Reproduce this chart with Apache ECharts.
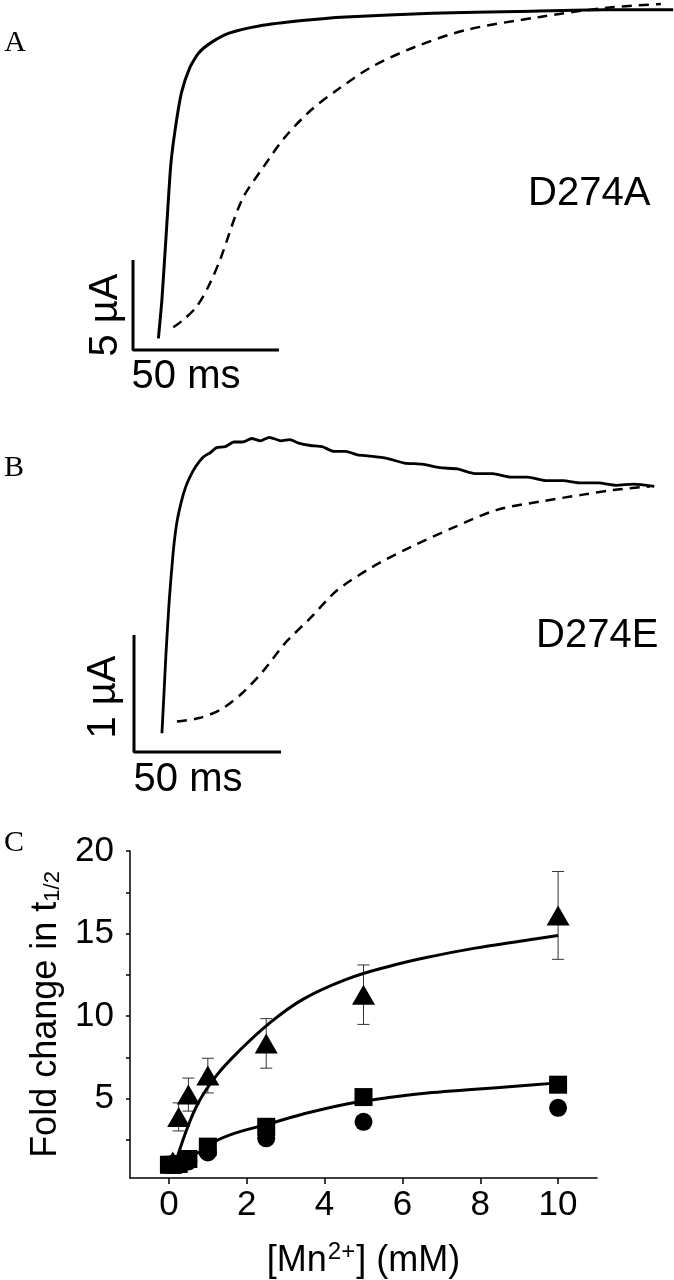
<!DOCTYPE html>
<html>
<head>
<meta charset="utf-8">
<script src="https://cdn.jsdelivr.net/npm/echarts@6/dist/echarts.min.js"></script>
<style>
  html, body { margin: 0; padding: 0; background: #fff; }
  #chart { width: 674px; height: 1280px; }
</style>
</head>
<body>
<div id="chart"></div>
<script>
// Panel A (D274A): time in ms, current in uA (relative to scale bar corner)
var aSolidT = [8.7, 9.9, 11.4, 12.9, 14.4, 16.6, 19.5, 22.5, 27, 32.9, 43.2, 57.9, 72.8, 102.4, 131.8, 161.6, 185];
var aSolidI = [0.65, 2.78, 6.5, 10.2, 12.2, 14.3, 15.7, 16.5, 17.1, 17.6, 18.0, 18.3, 18.5, 18.7, 18.8, 18.9, 18.9];
var aDashT = [13.8, 17.2, 21.8, 25.8, 29.8, 37.3, 44.7, 52.1, 61, 69.9, 81.7, 96.5, 114.2, 139.4, 161.6, 180.8];
var aDashI = [1.26, 1.67, 2.41, 3.52, 5.0, 8.33, 10.17, 11.83, 13.33, 14.44, 15.72, 16.83, 17.78, 18.5, 19.0, 19.22];

// Panel B (D274E)
var bSolidT = [9.5, 10.2, 10.9, 12, 13.3, 14.5, 16, 17.5, 19, 21, 23.5, 26, 28, 31, 34, 37, 40, 43, 46, 50, 53, 56, 60, 64, 68, 72, 76, 80, 86, 92, 98, 104, 110, 116, 122, 128, 134, 140, 146, 152, 158, 164, 170, 177];
var bSolidI = [0.16, 0.5, 0.85, 1.3, 1.70, 1.95, 2.13, 2.26, 2.35, 2.44, 2.52, 2.56, 2.60, 2.61, 2.65, 2.65, 2.68, 2.66, 2.69, 2.66, 2.67, 2.64, 2.62, 2.61, 2.57, 2.57, 2.54, 2.53, 2.51, 2.47, 2.46, 2.43, 2.42, 2.38, 2.38, 2.35, 2.35, 2.32, 2.32, 2.30, 2.30, 2.28, 2.29, 2.27];
var bDashT = [14.6, 22.1, 29.3, 36.7, 44.2, 51.4, 60.2, 69, 81, 93.9, 108.8, 123.5, 138, 152.7, 163, 175.5];
var bDashI = [0.26, 0.29, 0.36, 0.50, 0.70, 0.93, 1.15, 1.38, 1.58, 1.75, 1.92, 2.07, 2.14, 2.20, 2.24, 2.27];

// scale bars [ms, uA]
var scaleA = [50, 5];
var scaleB = [50, 1];

// Panel C: fold change in t1/2 vs [Mn2+] (mM)
var triMn = [0.1, 0.25, 0.5, 1, 2.5, 5, 10];
var triFold = [1.2, 3.9, 5.25, 6.4, 8.35, 11.3, 16.1];
var triErr = [0, 0.85, 1.0, 1.05, 1.5, 1.8, 2.66];
var sqMn = [0, 0.1, 0.25, 0.5, 1, 2.5, 5, 10];
var sqFold = [1.0, 1.0, 1.05, 1.35, 2.1, 3.3, 5.1, 5.85];
var cirMn = [0, 0.25, 0.5, 1, 2.5, 5, 10];
var cirFold = [1.0, 1.0, 1.2, 1.75, 2.6, 3.6, 4.45];
var fitHiMn = [0.15, 0.43, 0.76, 1.21, 1.76, 2.54, 3.43, 4.54, 5.65, 6.76, 7.87, 8.98, 10.0];
var fitHiFold = [0.94, 2.96, 4.77, 6.37, 7.79, 9.49, 11.0, 12.21, 13.01, 13.62, 14.12, 14.52, 14.88];
var fitLoMn = [0, 0.5, 0.99, 1.21, 1.76, 2.54, 3.43, 4.54, 5.65, 6.76, 7.87, 8.98, 10.0];
var fitLoFold = [1.0, 1.45, 2.05, 2.45, 2.96, 3.46, 4.06, 4.67, 5.07, 5.37, 5.57, 5.77, 5.96];

var xTicksC = [0, 2, 4, 6, 8, 10];
var yTicksC = [2.5, 5, 7.5, 10, 12.5, 15, 17.5, 20];
var yLabelsC = [5, 10, 15, 20];

function zip(a, b) {
  return a.map(function (v, i) { return [v, b[i]]; });
}

var sans = '"Liberation Sans", Arial, sans-serif';
var serif = '"Liberation Serif", "Times New Roman", serif';

var chart = echarts.init(document.getElementById('chart'));

function hidden(gi, min, max) {
  return { gridIndex: gi, type: 'value', min: min, max: max, show: false };
}

function trace(xi, data, dashed, width, smooth) {
  return {
    type: 'line', xAxisIndex: xi, yAxisIndex: xi, data: data,
    showSymbol: false, smooth: smooth, clip: false, silent: true,
    lineStyle: { color: '#000', width: width, type: dashed ? [10, 7] : 'solid' }
  };
}

function bar(xi, data) {
  return {
    type: 'line', xAxisIndex: xi, yAxisIndex: xi, data: data,
    showSymbol: false, clip: false, silent: true,
    lineStyle: { color: '#000', width: 3 }
  };
}

function txt(x, y, s, size, family, rot, align) {
  return {
    type: 'text', x: x, y: y, rotation: rot || 0, silent: true,
    style: {
      text: s, fill: '#000', fontSize: size, fontFamily: family,
      textAlign: align || 'center', align: align || 'center',
      textVerticalAlign: 'middle', verticalAlign: 'middle'
    }
  };
}

function dots(data, symbol, size) {
  return {
    type: 'scatter', xAxisIndex: 2, yAxisIndex: 2, data: data,
    symbol: symbol, symbolSize: size, silent: true,
    itemStyle: { color: '#000', opacity: 1 }
  };
}

var option = {
  backgroundColor: '#fff',
  animation: false,
  grid: [
    { left: 133, top: 0, width: 541, height: 350 },
    { left: 134, top: 420, width: 540, height: 332 },
    { left: 130, top: 851, width: 467, height: 328 }
  ],
  xAxis: [
    hidden(0, 0, 185.3),
    hidden(1, 0, 183.7),
    {
      gridIndex: 2, type: 'value', min: -1, max: 11,
      axisLine: { show: true, onZero: false, lineStyle: { color: '#000', width: 1.5 } },
      axisTick: { show: true, customValues: xTicksC, length: 6, lineStyle: { color: '#000', width: 1.5 } },
      axisLabel: { customValues: xTicksC, color: '#000', fontSize: 35, fontFamily: sans, margin: 10 },
      splitLine: { show: false },
      name: '[Mn{sup|2+}] (mM)', nameLocation: 'middle', nameGap: 62,
      nameTextStyle: {
        color: '#000', fontSize: 36, fontFamily: sans,
        rich: { sup: { fontSize: 24, fontFamily: sans, verticalAlign: 'top', padding: [0, 1, 18, 1] } }
      }
    }
  ],
  yAxis: [
    hidden(0, 0, 19.44),
    hidden(1, 0, 2.838),
    {
      gridIndex: 2, type: 'value', min: 0.2, max: 20,
      axisLine: { show: true, onZero: false, lineStyle: { color: '#000', width: 1.5 } },
      axisTick: { show: true, customValues: yTicksC, length: 4, lineStyle: { color: '#000', width: 1.5 } },
      axisLabel: { customValues: yLabelsC, color: '#000', fontSize: 35, fontFamily: sans, margin: 16 },
      splitLine: { show: false },
      name: 'Fold change in t{sub|1/2}', nameLocation: 'middle', nameGap: 62, nameRotate: 90,
      nameTextStyle: {
        color: '#000', fontSize: 36, fontFamily: sans,
        rich: { sub: { fontSize: 22, fontFamily: sans, verticalAlign: 'bottom', padding: [14, 0, 0, 0] } }
      }
    }
  ],
  series: [
    // A
    trace(0, zip(aSolidT, aSolidI), false, 3, 0.2),
    trace(0, zip(aDashT, aDashI), true, 2.5, 0.3),
    bar(0, [[0, scaleA[1]], [0, 0], [scaleA[0], 0]]),
    // B
    trace(1, zip(bSolidT, bSolidI), false, 2.8, 0.2),
    trace(1, zip(bDashT, bDashI), true, 2.5, 0.3),
    bar(1, [[0, scaleB[1]], [0, 0], [scaleB[0], 0]]),
    // C fits
    {
      type: 'line', xAxisIndex: 2, yAxisIndex: 2, data: zip(fitHiMn, fitHiFold),
      showSymbol: false, smooth: 0.4, silent: true, lineStyle: { color: '#000', width: 3 }
    },
    {
      type: 'line', xAxisIndex: 2, yAxisIndex: 2, data: zip(fitLoMn, fitLoFold),
      showSymbol: false, smooth: 0.4, silent: true, lineStyle: { color: '#000', width: 3 }
    },
    // error bars
    {
      type: 'custom', xAxisIndex: 2, yAxisIndex: 2, silent: true,
      data: triMn.map(function (m, i) { return [m, triFold[i], triErr[i]]; }),
      renderItem: function (params, api) {
        var x = api.value(0), y = api.value(1), e = api.value(2);
        if (!e) return null;
        var top = api.coord([x, y + e]);
        var bot = api.coord([x, y - e]);
        var st = { stroke: '#333', lineWidth: 1 };
        return {
          type: 'group',
          children: [
            { type: 'line', shape: { x1: top[0], y1: top[1], x2: bot[0], y2: bot[1] }, style: st },
            { type: 'line', shape: { x1: top[0] - 6, y1: top[1], x2: top[0] + 6, y2: top[1] }, style: st },
            { type: 'line', shape: { x1: bot[0] - 6, y1: bot[1], x2: bot[0] + 6, y2: bot[1] }, style: st }
          ]
        };
      }
    },
    dots(zip(cirMn, cirFold), 'circle', 18),
    dots(zip(sqMn, sqFold), 'rect', 18),
    dots(zip(triMn, triFold), 'triangle', [23, 20])
  ],
  graphic: [
    txt(15, 43, 'A', 30, serif),
    txt(528, 194, 'D274A', 40, sans, 0, 'left'),
    txt(106, 315, '5 µA', 40, sans, Math.PI / 2),
    txt(186, 377, '50 ms', 40, sans),
    txt(14, 468, 'B', 30, serif),
    txt(536, 636, 'D274E', 40, sans, 0, 'left'),
    txt(104, 697, '1 µA', 40, sans, Math.PI / 2),
    txt(188, 780, '50 ms', 40, sans),
    txt(14, 843, 'C', 30, serif)
  ]
};

chart.setOption(option);
</script>
</body>
</html>
